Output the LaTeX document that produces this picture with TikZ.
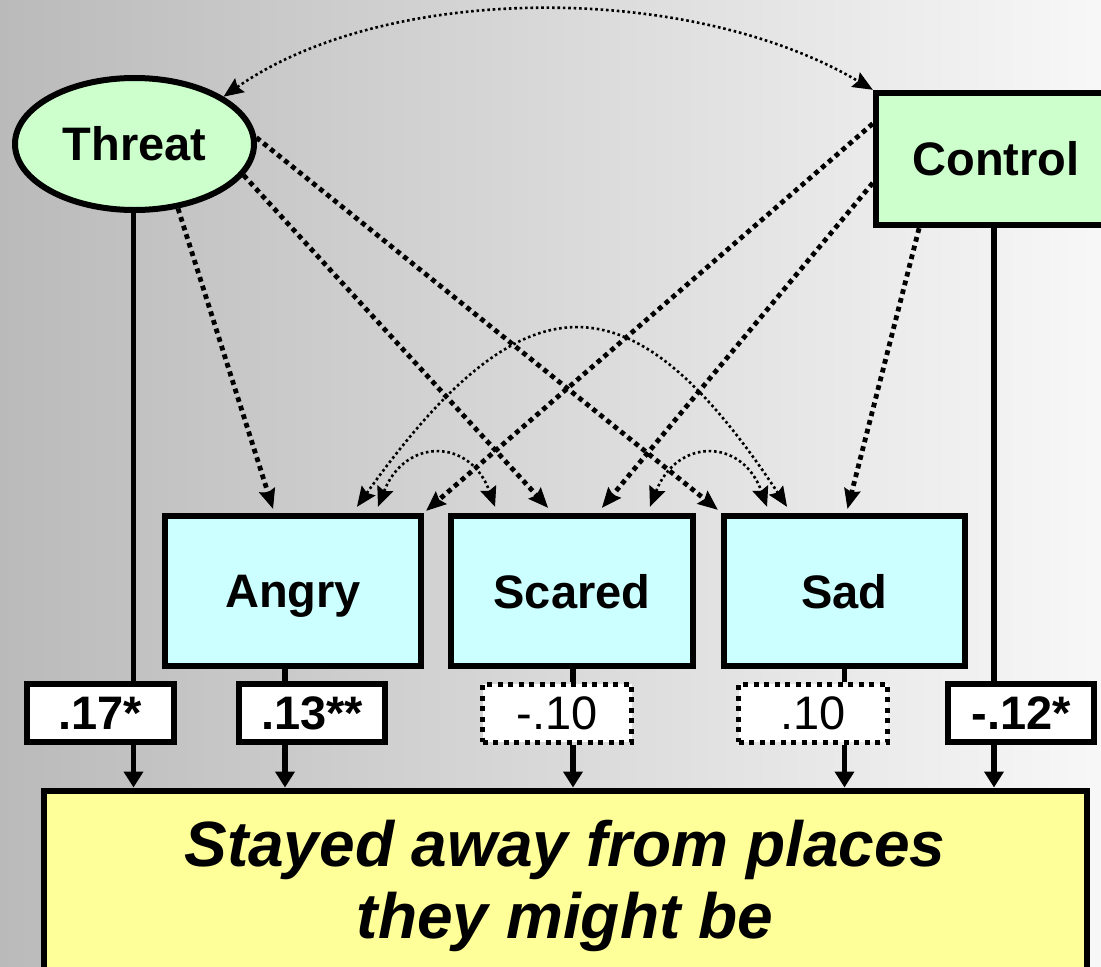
\documentclass[tikz,border=0pt]{standalone}
\usepackage{fontspec}
\setmainfont{Liberation Sans}
\usetikzlibrary{
  positioning,
  calc,
  arrows.meta,
  shapes.geometric
}
\definecolor{mintgreen}{HTML}{CCFFCC}
\definecolor{paleblue}{HTML}{CCFFFF}
\definecolor{paleyellow}{HTML}{FFFF99}

\begin{document}
\begin{tikzpicture}[x=1pt,y=-1pt,
    big/.style={font=\fontsize{47}{56}\selectfont\bfseries},
    latent/.style={ellipse, draw, line width=6pt, fill=mintgreen, inner sep=0pt,
      minimum width=239pt, minimum height=132pt, big},
    observed/.style={rectangle, draw, line width=6.5pt, fill=mintgreen,
      minimum width=240pt, minimum height=132pt, big},
    emotion/.style={rectangle, draw, line width=6.5pt, fill=paleblue,
      minimum height=150pt, text depth=0pt, big},
    coef/.style={rectangle, draw, line width=6pt, fill=white, inner sep=0pt,
      minimum height=58pt, text depth=0pt, font=\fontsize{47}{56}\selectfont},
    sig/.style={coef, font=\fontsize{47}{56}\selectfont\bfseries},
    nonsig/.style={coef, line width=5pt, dash pattern=on 5pt off 5.5pt},
    tip/.style={},
    effect/.style={line width=4.8pt, dash pattern=on 4.8pt off 4.2pt,
      -{Stealth[length=20pt,width=17pt,inset=3pt,line width=1pt]}},
    assoc/.style={line width=2.6pt, dash pattern=on 2.6pt off 2.8pt,
      {Stealth[length=20pt,width=17pt,inset=3pt,line width=1pt]}-{Stealth[length=20pt,width=17pt,inset=3pt,line width=1pt]}},
    direct/.style={line width=5.5pt}
  ]
  % Frame and background
  \path[use as bounding box] (0,0) rectangle (1101,967);
  \clip (0,0) rectangle (1101,967);
  \shade[left color=black!27, right color=black!3] (0,0) rectangle (1101,967);

  % Predictors
  \node[latent] (threat) at (134.5,144) {Threat};
  \node[observed] (control) at (996,159) {Control};

  % Emotions
  \node[emotion, minimum width=256pt] (angry) at (293,591) {Angry};
  \node[emotion, minimum width=242pt] (scared) at (572,591) {Scared};
  \node[emotion, minimum width=241pt] (sad) at (844.5,591) {Sad};

  % Coefficients
  \node[sig, minimum width=147pt] (l17) at (100,713) {.17*};
  \node[sig, minimum width=146pt] (l13) at (312,713) {.13**};
  \node[nonsig, minimum width=149pt] (l10a) at (557,713) {-.10};
  \node[nonsig, minimum width=149pt] (l10b) at (813,713) {.10};
  \node[sig, minimum width=146pt] (l12) at (1021,713) {-.12*};

  % Outcome
  \node[draw, line width=6pt, fill=paleyellow, minimum width=1043pt, minimum height=191pt,
    align=center, font=\fontsize{64}{72}\selectfont\bfseries\itshape] (outcome) at (565,886)
    {Stayed away from places\\they might be};

  % Predictors to emotions
  \draw[effect] (threat.-56) -- ([xshift=-20pt,yshift=4pt]angry.north);
  \draw[effect] (threat.-16) -- ([xshift=-24pt,yshift=5pt]scared.north);
  \draw[effect] (threat.3) -- ([xshift=-3pt,yshift=3pt]sad.north west);
  \draw[effect] (control.164) -- ([xshift=2pt,yshift=2pt]angry.north east);
  \draw[effect] (control.191) -- ([xshift=30pt,yshift=5pt]scared.north);
  \draw[effect] (control.222) -- ([xshift=3pt,yshift=4pt]sad.north);

  % Correlations
  \draw[assoc] (threat.28) .. controls +(163,-114) and +(-183,-108) .. (control.north west);
  \draw[assoc] ([xshift=64pt,yshift=6pt]angry.north) .. controls +(168,-235) and +(-155,-235) .. ([xshift=-57.5pt,yshift=6pt]sad.north);
  \draw[assoc] ([xshift=85pt,yshift=6pt]angry.north) .. controls +(27,-69) and +(-25,-69) .. ([xshift=-77pt,yshift=6pt]scared.north);
  \draw[assoc] ([xshift=78pt,yshift=6pt]scared.north) .. controls +(27,-69) and +(-25,-69) .. ([xshift=-77.5pt,yshift=6pt]sad.north);

  % Direct paths to outcome
  \foreach \src/\lab/\dx in {threat/l17/-1, angry/l13/-8, scared/l10a/1, sad/l10b/0, control/l12/-2} {
    \coordinate (s) at ([xshift=\dx pt]\src.south);
    \draw[direct] (s) -- (s |- \lab.north);
    \draw[direct, -{Triangle[length=16pt,width=19pt]}] (s |- \lab.south) -- (s |- outcome.north);
  }
\end{tikzpicture}
\end{document}
